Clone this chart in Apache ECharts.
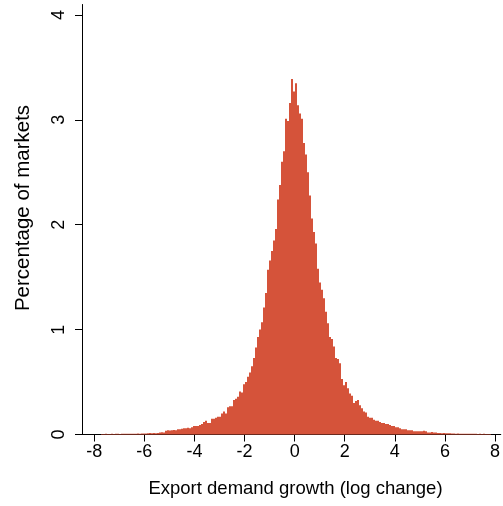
<!DOCTYPE html>
<html><head><meta charset="utf-8">
<script src="https://cdn.jsdelivr.net/npm/echarts@6/dist/echarts.min.js"></script>
<style>html,body{margin:0;padding:0;background:#fff}#c{width:503px;height:506px}</style>
</head><body><div id="c"></div>
<script>
const binStart = -7.75;
const binWidth = 0.08;
const percentages = [
0.004,0.005,0.006,0.005,0.004,0.006,0.005,0.007,0.006,0.005,
0.006,0.007,0.006,0.008,0.007,0.006,0.008,0.007,0.009,0.008,
0.009,0.010,0.009,0.012,0.014,0.012,0.015,0.013,0.015,0.020,
0.022,0.020,0.035,0.040,0.038,0.040,0.042,0.040,0.050,0.050,
0.055,0.060,0.060,0.065,0.060,0.070,0.080,0.080,0.080,0.090,
0.100,0.120,0.130,0.110,0.110,0.150,0.150,0.160,0.170,0.170,
0.200,0.220,0.200,0.260,0.270,0.270,0.330,0.340,0.360,0.410,
0.400,0.480,0.500,0.550,0.590,0.650,0.730,0.830,0.930,1.000,
1.070,1.210,1.350,1.570,1.660,1.750,1.850,1.960,2.240,2.380,
2.600,2.700,3.010,2.990,3.160,3.390,3.270,3.350,3.140,3.060,
3.010,2.780,2.670,2.500,2.280,2.060,1.930,1.820,1.580,1.450,
1.380,1.300,1.170,1.060,0.930,0.910,0.840,0.730,0.720,0.680,
0.530,0.470,0.500,0.440,0.390,0.370,0.300,0.320,0.330,0.280,
0.250,0.220,0.210,0.170,0.160,0.160,0.140,0.130,0.130,0.120,
0.110,0.110,0.100,0.100,0.090,0.080,0.080,0.070,0.070,0.060,
0.050,0.050,0.050,0.040,0.040,0.040,0.030,0.030,0.030,0.030,
0.030,0.035,0.030,0.020,0.020,0.025,0.020,0.020,0.015,0.015,
0.012,0.015,0.012,0.013,0.012,0.010,0.009,0.008,0.009,0.008,
0.007,0.008,0.007,0.006,0.007,0.006,0.007,0.006,0.005,0.006,
0.005,0.006,0.005,0.004,0.005
];
const xTicks = [-8,-6,-4,-2,0,2,4,6,8];
const yTicks = [0,1,2,3,4];
const xTitle = 'Export demand growth (log change)';
const yTitle = 'Percentage of markets';

const data = percentages.map((v,i)=>[binStart+i*binWidth, binStart+(i+1)*binWidth, v]);
const font = 'Liberation Sans';
const chart = echarts.init(document.getElementById('c'), null, {renderer:'canvas'});
chart.setOption({
  animation:false,
  grid:{left:82, right:1.5, top:4.5, bottom:71.5},
  xAxis:{type:'value', min:-8.49, max:8.23,
    axisLine:{show:true, onZero:false, lineStyle:{color:'#000', width:1}},
    axisTick:{show:true, length:7, customValues:xTicks, lineStyle:{color:'#000'}},
    axisLabel:{customValues:xTicks, fontSize:18, color:'#000', fontFamily:font, margin:9},
    splitLine:{show:false}},
  yAxis:{type:'value', min:0, max:4.1,
    axisLine:{show:true, onZero:false, lineStyle:{color:'#000'}},
    axisTick:{show:true, length:7, customValues:yTicks, lineStyle:{color:'#000'}},
    axisLabel:{customValues:yTicks, rotate:90, fontSize:18, color:'#000', fontFamily:font, margin:14},
    splitLine:{show:false}},
  series:[{type:'custom', clip:false,
    renderItem:(params, api)=>{
      const p0 = api.coord([api.value(0), api.value(2)]);
      const p1 = api.coord([api.value(1), 0]);
      const x0 = Math.round(p0[0]), x1 = Math.round(p1[0]);
      return {type:'rect', shape:{x:x0, y:p0[1], width:x1-x0, height:p1[1]-p0[1]}, style:{fill:'#d5533a'}};
    },
    encode:{x:[0,1], y:2}, data:data}],
  graphic:[
    {type:'text', x:295.5, y:489, style:{text:xTitle, fontSize:18.5, fontFamily:font, fill:'#000', align:'center', verticalAlign:'middle'}},
    {type:'text', x:23, y:208, rotation:Math.PI/2, style:{text:yTitle, fontSize:20.5, fontFamily:font, fill:'#000', align:'center', verticalAlign:'middle'}}
  ]
});
</script></body></html>
